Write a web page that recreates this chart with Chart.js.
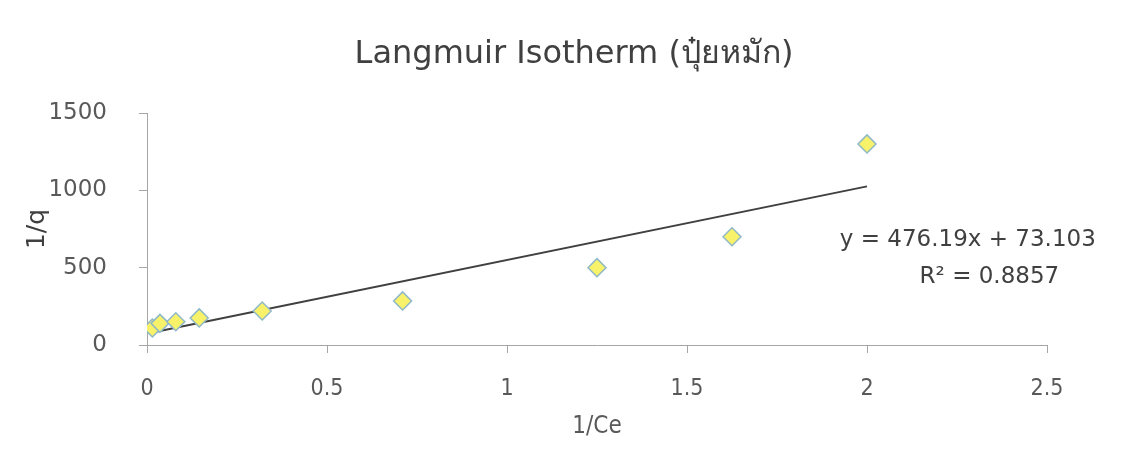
<!DOCTYPE html>
<html lang="th">
<head>
<meta charset="UTF-8">
<title>Langmuir Isotherm</title>
<script src="https://cdn.jsdelivr.net/npm/chart.js"></script>
<style>
    body { margin: 0; background: #ffffff; }
    .wrap { width: 1122px; height: 457px; }
</style>
</head>
<body>
<div class="wrap"><canvas id="chart"></canvas></div>
<script>
// measured points (1/Ce, 1/q)
const invCe = [0.015, 0.036, 0.08, 0.145, 0.32, 0.71, 1.25, 1.625, 2.0];
const invQ  = [110, 140, 150, 175, 220, 285, 500, 700, 1300];

// linear trendline shown in the chart
const slope = 476.19;
const intercept = 73.103;
const rSquared = 0.8857;

const xTicks = [0, 0.5, 1, 1.5, 2, 2.5];
const yTicks = [0, 500, 1000, 1500];

const chartTitle = 'Langmuir Isotherm (ปุ๋ยหมัก)';

const textGray = '#595959';
const axisGray = '#a6a6a6';
const fontFam = '"DejaVu Sans", "Noto Sans", sans-serif';
const narrowFam = '"Liberation Sans Narrow", "DejaVu Sans Condensed", sans-serif';

const points = invCe.map((x, i) => ({ x: x, y: invQ[i] }));
const xMin = Math.min(...invCe), xMax = Math.max(...invCe);
const trend = [
    { x: xMin, y: slope * xMin + intercept },
    { x: xMax, y: slope * xMax + intercept }
];

// title (sits a little left of the plot centre) and the equation text
const labels = {
    id: 'labels',
    afterDraw(chart) {
        const { ctx, scales: { x, y } } = chart;
        ctx.save();
        ctx.fillStyle = '#404040';
        ctx.textAlign = 'center';
        ctx.textBaseline = 'middle';
        ctx.font = '32px ' + fontFam;
        ctx.fillText(chartTitle, chart.width / 2 + 13, 55);
        ctx.font = '23px ' + fontFam;
        ctx.fillText('y = ' + slope + 'x + ' + intercept, x.getPixelForValue(2.28), y.getPixelForValue(680));
        ctx.fillText('R² = ' + rSquared, x.getPixelForValue(2.34), y.getPixelForValue(442));
        ctx.restore();
    }
};

new Chart(document.getElementById('chart'), {
    type: 'scatter',
    data: {
        datasets: [{
            label: 'data',
            data: points,
            pointStyle: 'rectRot',
            pointRadius: 9,
            backgroundColor: '#f7f26a',
            borderColor: '#8fb8c8',
            borderWidth: 1.5,
            order: 1
        }, {
            label: 'trend',
            type: 'line',
            data: trend,
            borderColor: '#404040',
            borderWidth: 2,
            pointRadius: 0,
            fill: false,
            order: 2
        }]
    },
    options: {
        responsive: true,
        maintainAspectRatio: false,
        animation: false,
        layout: { padding: { top: 113, right: 75, bottom: 0, left: 0 } },
        plugins: {
            legend: { display: false },
            tooltip: { enabled: false },
            title: { display: false }
        },
        scales: {
            x: {
                type: 'linear',
                min: 0,
                max: 2.5,
                afterBuildTicks: s => { s.ticks = xTicks.map(v => ({ value: v })); },
                afterFit: s => { s.height = 112; },
                ticks: {
                    color: textGray,
                    font: { family: narrowFam, size: 23 },
                    padding: 22,
                    callback: v => String(v)
                },
                grid: { drawOnChartArea: false, drawTicks: true, tickLength: 8, color: axisGray },
                border: { color: axisGray, width: 1 },
                title: {
                    display: true,
                    text: '1/Ce',
                    color: textGray,
                    font: { family: narrowFam, size: 24 },
                    padding: { bottom: 16 }
                }
            },
            y: {
                type: 'linear',
                min: 0,
                max: 1500,
                afterBuildTicks: s => { s.ticks = yTicks.map(v => ({ value: v })); },
                afterFit: s => { s.width = 147; },
                ticks: {
                    color: textGray,
                    font: { family: fontFam, size: 23 },
                    padding: 32,
                    callback: v => String(v)
                },
                grid: { drawOnChartArea: false, drawTicks: true, tickLength: 8, color: axisGray },
                border: { color: axisGray, width: 1 },
                title: {
                    display: true,
                    text: '1/q',
                    color: '#404040',
                    font: { family: fontFam, size: 25 },
                    padding: { top: 22 }
                }
            }
        }
    },
    plugins: [labels]
});
</script>
</body>
</html>
